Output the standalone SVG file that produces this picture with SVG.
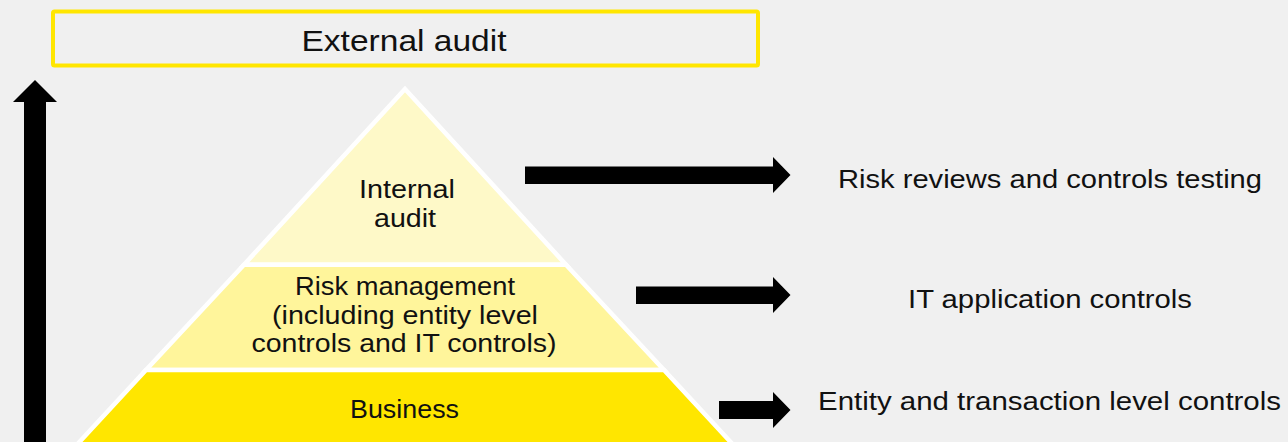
<svg xmlns="http://www.w3.org/2000/svg" width="1288" height="442" viewBox="0 0 1288 442">
  <style>
    .lbl { font-family: "Liberation Sans", Arial, sans-serif; fill: #111; text-anchor: middle; }
    .tier { stroke: #ffffff; stroke-width: 4.5; stroke-linejoin: miter; }
    .block { fill: #000000; }
  </style>
  <rect x="0" y="0" width="1288" height="442" fill="#f0f0f0"/>

  <!-- Top box -->
  <g id="external-audit">
    <rect x="53" y="11.5" width="705" height="54" rx="1.5" fill="none" stroke="#ffe600" stroke-width="4"/>
    <text class="lbl" x="404" y="50.5" font-size="30" textLength="205" lengthAdjust="spacingAndGlyphs">External audit</text>
  </g>

  <!-- Pyramid tiers -->
  <g id="internal-audit">
    <polygon class="tier" fill="#fef9c8" points="405,89 244,264.7 566,264.7"/>
    <text class="lbl" x="407" y="198" font-size="25" textLength="96" lengthAdjust="spacingAndGlyphs">Internal</text>
    <text class="lbl" x="405" y="226.5" font-size="25" textLength="62" lengthAdjust="spacingAndGlyphs">audit</text>
  </g>
  <g id="risk-management">
    <polygon class="tier" fill="#fff59b" points="244,264.7 566,264.7 664,370 146,370"/>
    <text class="lbl" x="405" y="295" font-size="25" textLength="220" lengthAdjust="spacingAndGlyphs">Risk management</text>
    <text class="lbl" x="405" y="323.5" font-size="25" textLength="266" lengthAdjust="spacingAndGlyphs">(including entity level</text>
    <text class="lbl" x="404" y="351.5" font-size="25" textLength="305" lengthAdjust="spacingAndGlyphs">controls and IT controls)</text>
  </g>
  <g id="business">
    <polygon class="tier" fill="#ffe600" points="146,370 664,370 738,450 72,450"/>
    <text class="lbl" x="404.5" y="417.5" font-size="25" textLength="109" lengthAdjust="spacingAndGlyphs">Business</text>
  </g>

  <!-- Outcome labels -->
  <g id="risk-reviews">
    <text class="lbl" x="1050" y="187.5" font-size="25" textLength="424" lengthAdjust="spacingAndGlyphs">Risk reviews and controls testing</text>
  </g>
  <g id="it-application-controls">
    <text class="lbl" x="1050" y="307.5" font-size="25" textLength="284" lengthAdjust="spacingAndGlyphs">IT application controls</text>
  </g>
  <g id="entity-transaction-controls">
    <text class="lbl" x="1049.5" y="410" font-size="25" textLength="463" lengthAdjust="spacingAndGlyphs">Entity and transaction level controls</text>
  </g>

  <!-- Block arrows -->
  <g id="connectors">
    <polygon class="block" points="24,450 24,102 13,102 35,80 57,102 46,102 46,450"/>
    <polygon class="block" points="525,166.5 773,166.5 773,157 790.5,175 773,193 773,184 525,184"/>
    <polygon class="block" points="636,286.5 773,286.5 773,277 790.5,295 773,313 773,304 636,304"/>
    <polygon class="block" points="719,401 773,401 773,392 790.5,410 773,428 773,419 719,419"/>
  </g>
</svg>
